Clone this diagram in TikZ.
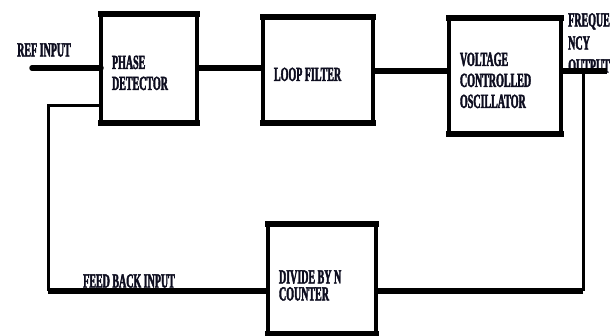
\documentclass[tikz,border=0pt]{standalone}
\usepackage{fontspec}
\usepackage{tikz}
\usetikzlibrary{calc}
\newfontfamily\blockfont{Liberation Serif}[FakeStretch=0.5,FakeBold=2]
\definecolor[named]{plltext}{rgb}{0.05,0.05,0.12}
% pushes the first line of a block a little down
\newcommand\blocktop[1][22pt]{\rule{0pt}{#1}}

\begin{document}
\begin{tikzpicture}
       [x=1pt,y=-1pt,
        block/.style={draw=black,shape=rectangle,line width=3.5pt,
                      outer sep=0pt,inner xsep=11pt,inner ysep=0pt,
                      align=flush left,text=plltext,
                      font=\blockfont\bfseries\fontsize{20}{21}\selectfont},
        lbl/.style={text=plltext,inner sep=0pt,align=left,
                    font=\blockfont\bfseries\fontsize{20}{23}\selectfont},
        wire/.style={line width=5.5pt},
        thinwire/.style={line width=3pt}]
       \useasboundingbox[fill=white] (0,0) rectangle (614,336);
       % blocks
       \node [block,text width=74pt,minimum height=109pt] (pd)  at (149,68.5)
             {\blocktop PHASE\\DETECTOR};
       \node [block,text width=88pt,minimum height=106pt] (lf)  at (318,70)
             {\blocktop LOOP FILTER};
       \node [block,text width=90pt,minimum height=116pt] (vco) at (505,76)
             {\blocktop VOLTAGE\\CONTROLLED\\OSCILLATOR};
       \node [block,text width=86pt,minimum height=110pt] (div) at (322,279)
             {\blocktop[26pt]DIVIDE BY N\\[-4pt]COUNTER};
       \foreach \b in {pd,lf,vco,div}
          \draw [line width=6pt,line cap=rect]
                (\b.north west) -- (\b.north east)
                (\b.south west) -- (\b.south east);
       % labels
       \node [lbl,anchor=west] (reflbl) at (17,50) {REF INPUT};
       \node [lbl,anchor=west] (fblbl)  at (83,281) {FEED BACK INPUT};
       \node [lbl,anchor=west] (outlbl) at (568,43) {FREQUE\\NCY\\OUTPUT};
       % connectors
       \coordinate (ref)  at (32,68);
       \coordinate (out)  at (607,71);
       \coordinate (tap)  at (583,71);
       \coordinate (fb)   at (48,291);
       \coordinate (pdin) at (48,106);
       \draw [wire,line cap=round] (ref) -- (ref -| pd.west);
       \draw [wire] (pd.east |- ref) -- (ref -| lf.west);
       \draw [wire] (lf.east |- out) -- (out -| vco.west);
       \draw [wire] (out -| vco.east) -- (out);
       \draw [thinwire] (tap) -- (tap |- fb);
       \draw [wire] (tap |- fb) -- (fb -| div.east);
       \draw [wire] (fb -| div.west) -- (fb);
       \draw [thinwire] (fb) -- (pdin) -- (pdin -| pd.west);
    \end{tikzpicture}
\end{document}
